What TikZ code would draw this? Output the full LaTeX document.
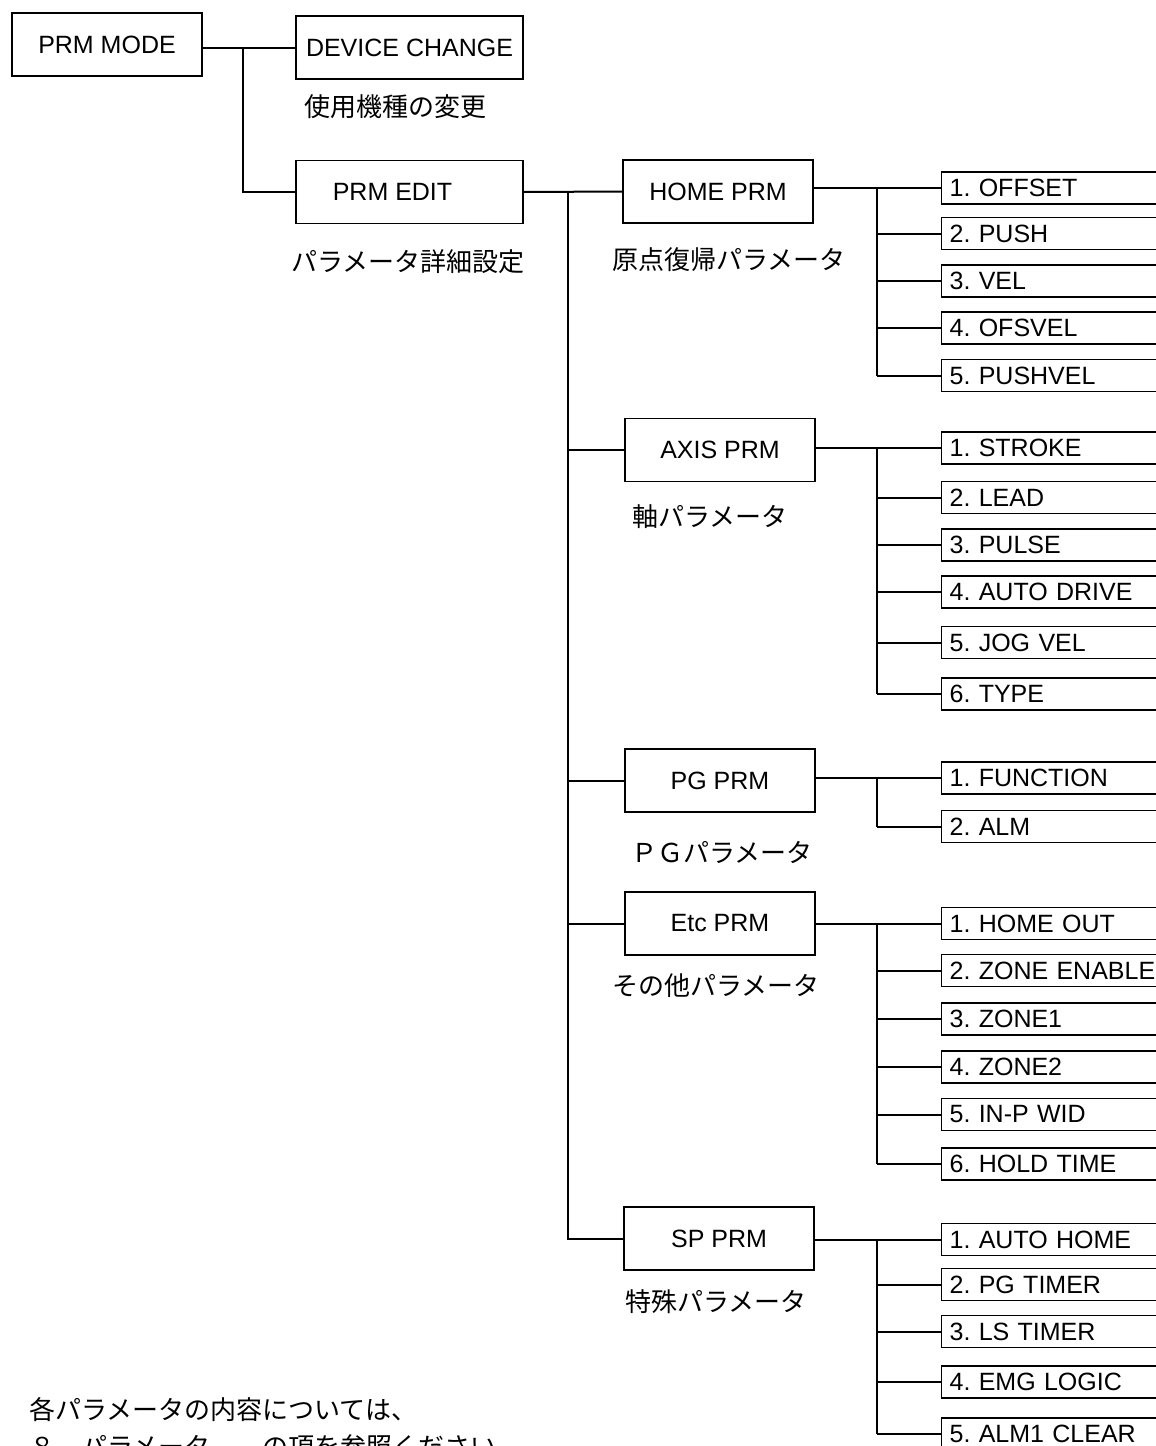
\documentclass[tikz,border=0pt]{standalone}
\usepackage{fontspec}
\setmainfont{Liberation Sans}
\newfontfamily\jp{Noto Sans CJK JP}
\begin{document}
\frenchspacing
\begin{tikzpicture}[x=1pt,y=-1pt,
  box/.style={draw,line width=1.4pt,minimum width=190pt,minimum height=63pt,inner sep=0pt,font=\fontsize{25}{30}\selectfont},
  leaf/.style={draw,line width=1.2pt,anchor=west,minimum height=32pt,text width=214pt,inner xsep=8pt,inner ysep=0pt,align=left,font=\fontsize{25}{30}\selectfont},
  lbl/.style={inner sep=0pt,font=\jp\fontsize{26}{30}\selectfont},
  conn/.style={line width=2pt}]
\useasboundingbox (0,0) rectangle (1156,1446);
\clip (0,0) rectangle (1156,1446);

% main boxes
\node[box] (pm) at (107,44.5) {PRM MODE};
\node[box,minimum width=227pt] (dc) at (409.5,47.5) {DEVICE CHANGE};
\node[box,minimum width=227pt] (ed) at (409.5,192) {PRM EDIT\hspace*{34pt}};
\node[box] (hp) at (718,191.5) {HOME PRM};
\node[box] (ap) at (720,450) {AXIS PRM};
\node[box] (pg) at (720,780.5) {PG PRM};
\node[box] (ep) at (720,923.5) {Etc PRM};
\node[box] (sp) at (719,1238.5) {SP PRM};

% labels
\node[lbl] (l1) at (395,107) {使用機種の変更};
\node[lbl] (l2) at (408,262) {パラメータ詳細設定};
\node[lbl] (l3) at (729,260) {原点復帰パラメータ};
\node[lbl] (l4) at (710,517) {軸パラメータ};
\node[lbl] (l5) at (722,852) {ＰＧパラメータ};
\node[lbl] (l6) at (716,986) {その他パラメータ};
\node[lbl] (l7) at (716,1302) {特殊パラメータ};
\node[lbl,anchor=west] (n1) at (29,1410) {各パラメータの内容については、};
\node[lbl,anchor=west] (n2) at (29,1447) {８．パラメータ　　の項を参照ください};

% junction columns
\coordinate (j1) at (243,0);
\coordinate (j2) at (568,0);
\coordinate (j3) at (877,0);

% top-level connectors
\draw[conn] (pm.east|-dc.west) -- (dc.west);
\draw[conn] (j1|-dc.west) |- (ed.west);
\draw[conn] (ed.east) -- (hp.west);
\draw[conn] (j2|-ed.east) |- (sp.west);
\draw[conn] (j2|-ap.west) -- (ap.west);
\draw[conn] (j2|-pg.west) -- (pg.west);
\draw[conn] (j2|-ep.west) -- (ep.west);

% HOME PRM leaves
\foreach \n/\y/\t in {h1/188/1. OFFSET, h2/233.5/2. PUSH, h3/281/3. VEL, h4/328/4. OFSVEL, h5/375.5/5. PUSHVEL}{
  \node[leaf] (\n) at (941,\y) {\t};
  \draw[conn] (j3|-\n.west) -- (\n.west);
}
\draw[conn] (hp.east|-h1.west) -- (h1.west);
\draw[conn] (j3|-h1.west) -- (j3|-h5.west);

% AXIS PRM leaves
\foreach \n/\y/\t in {a1/448/1. STROKE, a2/497.5/2. LEAD, a3/545/3. PULSE, a4/592/4. AUTO DRIVE, a5/642.5/5. JOG VEL, a6/694/6. TYPE}{
  \node[leaf] (\n) at (941,\y) {\t};
  \draw[conn] (j3|-\n.west) -- (\n.west);
}
\draw[conn] (ap.east|-a1.west) -- (a1.west);
\draw[conn] (j3|-a1.west) -- (j3|-a6.west);

% PG PRM leaves
\foreach \n/\y/\t in {p1/778/1. FUNCTION, p2/826.5/2. ALM}{
  \node[leaf] (\n) at (941,\y) {\t};
  \draw[conn] (j3|-\n.west) -- (\n.west);
}
\draw[conn] (pg.east|-p1.west) -- (p1.west);
\draw[conn] (j3|-p1.west) -- (j3|-p2.west);

% Etc PRM leaves
\foreach \n/\y/\t in {e1/923.5/1. HOME OUT, e2/970.5/2. ZONE ENABLE, e3/1019/3. ZONE1, e4/1067/4. ZONE2, e5/1114.5/5. IN-P WID, e6/1164/6. HOLD TIME}{
  \node[leaf] (\n) at (941,\y) {\t};
  \draw[conn] (j3|-\n.west) -- (\n.west);
}
\draw[conn] (ep.east|-e1.west) -- (e1.west);
\draw[conn] (j3|-e1.west) -- (j3|-e6.west);

% SP PRM leaves
\foreach \n/\y/\t in {s1/1239.5/1. AUTO HOME, s2/1284.5/2. PG TIMER, s3/1331.5/3. LS TIMER, s4/1382/4. EMG LOGIC, s5/1434/5. ALM1 CLEAR}{
  \node[leaf] (\n) at (941,\y) {\t};
  \draw[conn] (j3|-\n.west) -- (\n.west);
}
\draw[conn] (sp.east|-s1.west) -- (s1.west);
\draw[conn] (j3|-s1.west) -- (j3|-s5.west);
\end{tikzpicture}
\end{document}
